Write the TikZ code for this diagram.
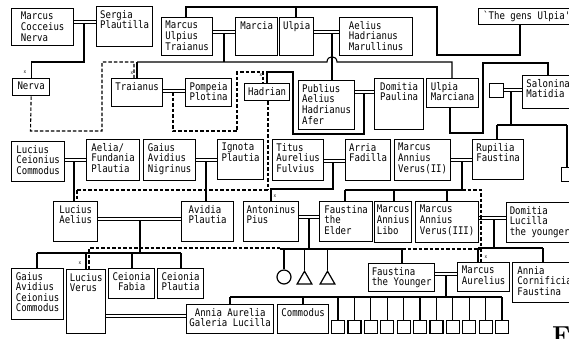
\documentclass[tikz,border=0pt]{standalone}
\usepackage{fontspec}
\setmonofont[FakeStretch=0.86]{DejaVu Sans Mono}
\usetikzlibrary{shapes.geometric}
\begin{document}
\begin{tikzpicture}[x=1pt,y=-1pt,
  bx/.style={draw, line width=1.3pt, inner sep=0pt, anchor=north west},
  tx/.style={font=\ttfamily\fontsize{10.5}{10.6}\selectfont, inner sep=0pt, anchor=north, align=left},
  txc/.style={tx, align=center},
  ln/.style={line width=1.1pt},
  dl/.style={line width=1.1pt, dash pattern=on 3.5pt off 2pt},
  mr/.style={double, line width=0.9pt, double distance=1.6pt},
  xm/.style={font=\ttfamily\fontsize{5}{5}\selectfont, inner sep=0pt},
  sqr/.style={draw, line width=1.2pt, inner sep=0pt, minimum width=13pt, minimum height=13pt, anchor=north}
]
\useasboundingbox (0,0) rectangle (569,338);
\newcommand{\gb}[7][tx]{%
  \node[bx, minimum width={#5pt-#3pt}, minimum height={#6pt-#4pt}] (#2) at (#3,#4) {};
  \node[#1] (#2t) at ([yshift=-4pt]#2.north) {#7};}
% row 1
\gb{mcn}{11}{8}{73}{45}{Marcus\\Cocceius\\Nerva}
\gb{sp}{96}{6}{152}{46}{Sergia\\Plautilla}
\gb{mut}{161}{17}{212}{55}{Marcus\\Ulpius\\Traianus}
\gb{marcia}{235}{17}{277}{55}{Marcia}
\gb{ulpia}{279}{17}{313}{55}{Ulpia}
\gb{aelius}{339}{17}{412}{55}{Aelius\\Hadrianus\\Marullinus}
\node[bx, minimum width=95pt, minimum height=16pt] (gens) at (478,8) {};
\node[tx, anchor=north west] (genst) at (483,11) {`The gens Ulpia'};
% row 2
\gb{nerva}{12}{78}{49}{95}{Nerva}
\gb{traianus}{111}{78}{162}{106}{Traianus}
\gb{pompeia}{185}{78}{231}{106}{Pompeia\\Plotina}
\gb{hadrian}{244}{83}{289}{100}{Hadrian}
\gb{publius}{298}{80}{354}{129}{Publius\\Aelius\\Hadrianus\\Afer}
\gb{domp}{374}{78}{423}{129}{Domitia\\Paulina}
\gb{uma}{426}{78}{478}{107}{Ulpia\\Marciana}
\node[bx, minimum width=14pt, minimum height=14pt] (sqa) at (489,83) {};
\gb{salonina}{522}{75}{573}{108}{Salonina\\Matidia}
% row 3
\gb{lcc}{11}{141}{64}{181}{Lucius\\Ceionius\\Commodus}
\gb{aelia}{86}{139}{139}{180}{Aelia/\\Fundania\\Plautia}
\gb{gan}{143}{139}{195}{180}{Gaius\\Avidius\\Nigrinus}
\gb{ignota}{217}{139}{263}{179}{Ignota\\Plautia}
\gb{titus}{272}{139}{323}{180}{Titus\\Aurelius\\Fulvius}
\gb{arria}{345}{139}{390}{180}{Arria\\Fadilla}
\gb{mav}{394}{139}{450}{180}{Marcus\\Annius\\Verus(II)}
\gb{rupilia}{472}{139}{523}{179}{Rupilia\\Faustina}
\node[bx, minimum width=15pt, minimum height=14pt] (sqb) at (561,167) {};
% row 4
\gb{la}{53}{201}{97}{241}{Lucius\\Aelius}
\gb{avidia}{181}{201}{233}{241}{Avidia\\Plautia}
\gb{ap}{243}{201}{298}{241}{Antoninus\\Pius}
\gb{fe}{319}{201}{372}{241}{Faustina\\the\\Elder}
\gb{libo}{374}{201}{411}{242}{Marcus\\Annius\\Libo}
\gb{mavt}{415}{201}{478}{242}{Marcus\\Annius\\Verus(III)}
\gb{dl}{506}{202}{572}{242}{Domitia\\Lucilla\\the younger}
% row 5
\gb{gacc}{11}{268}{63}{319}{Gaius\\Avidius\\Ceionius\\Commodus}
\gb{lv}{66}{269}{105}{333}{Lucius\\Verus}
\gb[txc]{cf}{108}{268}{154}{298}{Ceionia\\Fabia}
\gb{cp}{157}{268}{203}{298}{Ceionia\\Plautia}
\gb{fy}{368}{263}{434}{291}{Faustina\\the Younger}
\gb{ma}{457}{262}{509}{291}{Marcus\\Aurelius}
\gb{acf}{512}{262}{576}{302}{Annia\\Cornificia\\Faustina}
\gb[txc]{aagl}{186}{304}{273}{333}{Annia Aurelia\\Galeria Lucilla}
\gb{com}{277}{304}{328}{333}{Commodus}
\foreach \i in {0,...,10} {\node[sqr] (k\i) at (338+16.4*\i,320) {};}
\node[draw, line width=1.2pt, circle, inner sep=0pt, minimum size=14pt] (c1) at (284,277) {};
\node[draw, line width=1.2pt, regular polygon, regular polygon sides=3, inner sep=0pt, minimum size=17pt, anchor=north] (t1) at (304.5,270) {};
\node[draw, line width=1.2pt, regular polygon, regular polygon sides=3, inner sep=0pt, minimum size=17pt, anchor=north] (t2) at (327.5,270) {};
% marriages
\draw[mr] (mcn.east |- 0,22) -- (sp.west |- 0,22);
\draw[mr] (mut.east |- 0,32) -- (marcia.west |- 0,32);
\draw[mr] (ulpia.east |- 0,32) -- (aelius.west |- 0,32);
\draw[mr] (traianus.east |- 0,91) -- (pompeia.west |- 0,91);
\draw[mr] (publius.east |- 0,92) -- (domp.west |- 0,92);
\draw[mr] (sqa.east |- 0,90) -- (salonina.west |- 0,90);
\draw[mr] (lcc.east |- 0,160) -- (aelia.west |- 0,160);
\draw[mr] (gan.east |- 0,160) -- (ignota.west |- 0,160);
\draw[mr] (titus.east |- 0,161) -- (arria.west |- 0,161);
\draw[mr] (mav.east |- 0,160) -- (rupilia.west |- 0,160);
\draw[mr] (la.east |- 0,219) -- (avidia.west |- 0,219);
\draw[mr] (ap.east |- 0,217) -- (fe.west |- 0,217);
\draw[mr] (mavt.east |- 0,218) -- (dl.west |- 0,218);
\draw[mr] (fy.east |- 0,274) -- (ma.west |- 0,274);
\draw[mr] (lv.east |- 0,316) -- (aagl.west |- 0,316);
% descents
\draw[ln] (84,23) -- (84,62) -| (nerva.north);
\draw[ln] (gens.south -| 520,0) -- (520,55) -- (437,55) -- (437,7) -- (186,7) -- (mut.north -| 186,0);
\draw[ln] (296,7) -- (ulpia.north -| 296,0);
\draw[ln] (224,33) -- (224,62);
\draw[ln] (137,62) -- (327,62) .. controls (327,55) and (337,55) .. (337,62) -- (452,62) -- (uma.north -| 452,0);
\draw[ln] (137,62) -- (traianus.north -| 137,0);
\draw[ln] (332,33) -- (publius.north -| 332,0);
\draw[ln] (364,93) -- (364,134) -- (293,134) -- (293,72) -- (267,72) -- (hadrian.north -| 267,0);
\draw[ln] (uma.south -| 450,0) -- (450,133) -- (483,133) -- (483,63) -- (548,63) -- (salonina.north -| 548,0);
\draw[ln] (511,91) -- (511,125);
\draw[ln] (497,125) -- (567,125);
\draw[ln] (497,125) -- (rupilia.north -| 497,0);
\draw[ln] (567,125) -- (sqb.north -| 567,0);
\draw[ln] (74,161) -- (la.north -| 74,0);
\draw[ln] (206,161) -- (avidia.north -| 206,0);
\draw[ln] (333,162) -- (333,189) -- (271,189) -- (ap.north -| 271,0);
\draw[ln] (462,161) -- (462,190);
\draw[ln] (345,190) -- (462,190);
\draw[ln] (345,190) -- (fe.north -| 345,0);
\draw[ln] (394,190) -- (libo.north -| 394,0);
\draw[ln] (447,190) -- (mavt.north -| 447,0);
\draw[ln] (140,220) -- (140,253);
\draw[ln] (37,253) -- (181,253);
\draw[ln] (37,253) -- (gacc.north -| 37,0);
\draw[ln] (86,253) -- (lv.north -| 86,0);
\draw[ln] (132,253) -- (cf.north -| 132,0);
\draw[ln] (181,253) -- (cp.north -| 181,0);
\draw[ln] (309,218) -- (309,249);
\draw[ln] (280,249) -- (402,249);
\draw[ln] (284,249) -- (c1.north);
\draw[ln] (304.5,249) -- (t1.north);
\draw[ln] (327.5,249) -- (t2.north);
\draw[ln] (402,249) -- (fy.north -| 402,0);
\draw[ln] (494,219) -- (494,248);
\draw[ln] (478,248) -- (543,248);
\draw[ln] (478,248) -- (ma.north -| 478,0);
\draw[ln] (543,248) -- (acf.north -| 543,0);
\draw[ln] (446,275) -- (446,297);
\draw[ln] (230,297) -- (502,297);
\draw[ln] (230,297) -- (aagl.north -| 230,0);
\draw[ln] (303,297) -- (com.north -| 303,0);
\foreach \i in {0,...,10} {\draw[ln] (k\i.north) -- (k\i.north |- 0,297);}
% adoptions
\draw[dl] (nerva.south) -- (30.5,131) -- (102,131) -- (102,62) -- (134,62) -- (traianus.north -| 134,0);
\draw[dl] (173,92) -- (173,131) -- (237,131) -- (237,72) -- (263,72) -- (hadrian.north -| 263,0);
\draw[dl] (hadrian.south -| 268,0) -- (268,190);
\draw[dl] (77,190) -- (268,190);
\draw[dl] (77,190) -- (la.north -| 77,0);
\draw[dl] (462,190) -- (481,190) -- (ma.north -| 481,0);
\draw[dl] (402,249) -- (481,249);
\draw[dl] (lv.north -| 89,0) -- (89,248) -- (280,248);
% markers
\node[xm] (x1) at (25,72) {x};
\node[xm] (x2) at (132,73) {x};
\node[xm] (x3) at (261,75) {x};
\node[xm] (x4) at (275,196) {x};
\node[xm] (x5) at (80,263) {x};
\node[xm] (x6) at (486,257) {x};
\node[anchor=north west, inner sep=0pt, font=\rmfamily\bfseries\fontsize{26}{26}\selectfont] (ff) at (552,327) {F};
\end{tikzpicture}
\end{document}
